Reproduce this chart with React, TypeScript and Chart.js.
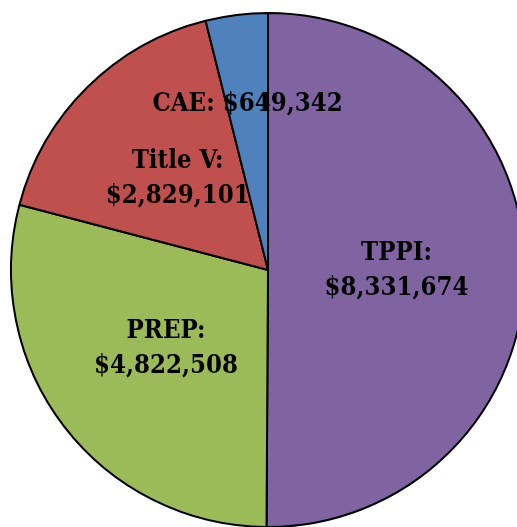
import React, { useEffect, useRef } from "react";
import { Chart, registerables } from "chart.js";

Chart.register(...registerables);

const categories = ["TPPI", "PREP", "Title V", "CAE"];
const values = [8331674, 4822508, 2829101, 649342];
const colors = ["#8064A2", "#9BBB59", "#C0504D", "#4F81BD"];
// label lines per slice: true => split into two lines
const twoLine = [true, true, true, false];
const labelRadius = [0.5, 0.5, 0.5, 0.65];

const fmt = (v: number) => "$" + v.toLocaleString("en-US");

const labelPlugin = {
  id: "sliceLabels",
  afterDatasetsDraw(chart: any) {
    const ctx = chart.ctx;
    const meta = chart.getDatasetMeta(0);
    const sy = 1.14;
    meta.data.forEach((arc: any, i: number) => {
      const { x, y, startAngle, endAngle, outerRadius } = arc.getProps(
        ["x", "y", "startAngle", "endAngle", "outerRadius"],
        true
      );
      const mid = (startAngle + endAngle) / 2;
      const r = outerRadius * labelRadius[i];
      const cx = x + Math.cos(mid) * r;
      const cy = y + Math.sin(mid) * r;
      const name = categories[i] + ":";
      const val = fmt(values[i]);
      const draw = (t: string, px: number, py: number) => {
        ctx.save();
        ctx.translate(px, py);
        ctx.scale(1, sy);
        ctx.font = "bold 23px 'DejaVu Serif'";
        ctx.fillStyle = "#000";
        ctx.textAlign = "center";
        ctx.textBaseline = "middle";
        ctx.fillText(t, 0, 0);
        ctx.restore();
      };
      if (twoLine[i]) {
        draw(name, cx, cy - 17);
        draw(val, cx, cy + 18);
      } else {
        draw(name + " " + val, cx, cy);
      }
    });
  },
};

export default function App() {
  const ref = useRef<HTMLCanvasElement>(null);
  useEffect(() => {
    if (!ref.current) return;
    const chart = new Chart(ref.current, {
      type: "pie",
      data: {
        labels: categories,
        datasets: [
          {
            data: values,
            backgroundColor: colors,
            borderColor: "#000",
            borderWidth: 2,
          },
        ],
      },
      options: {
        responsive: false,
        animation: false,
        radius: 257,
        layout: { padding: 0 },
        plugins: {
          legend: { display: false },
          tooltip: { enabled: false },
        },
      } as any,
      plugins: [labelPlugin],
    });
    return () => chart.destroy();
  }, []);
  return (
    <div
      style={{
        position: "fixed",
        left: 0,
        top: 0,
        width: 517,
        height: 527,
        overflow: "hidden",
        background: "#fff",
      }}
    >
      <canvas ref={ref} width={536} height={540} style={{ display: "block" }} />
    </div>
  );
}
